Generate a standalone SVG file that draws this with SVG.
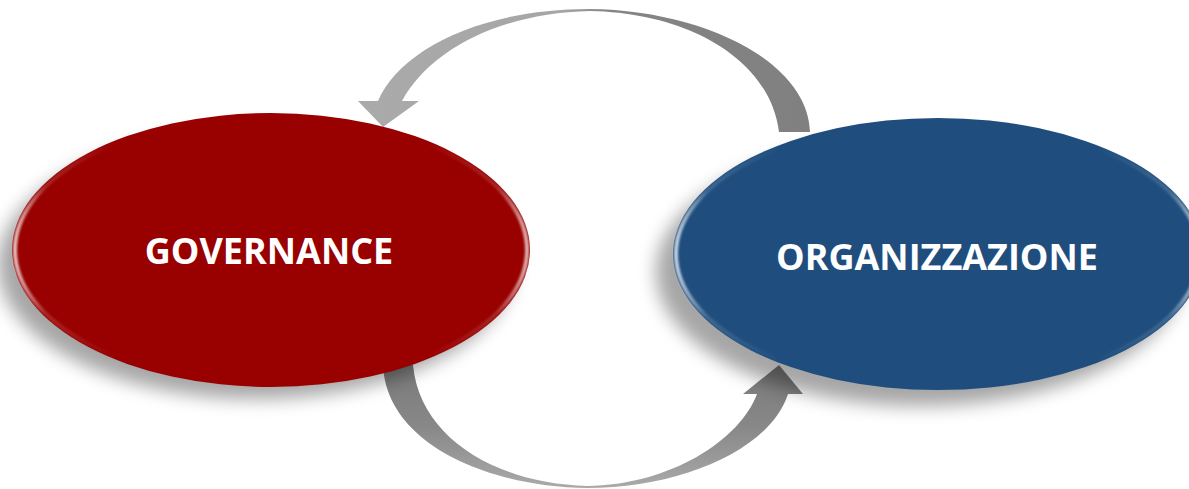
<svg xmlns="http://www.w3.org/2000/svg" width="1189" height="489" viewBox="0 0 1189 489">
<defs>
<style>
.lbl{font-family:"Open Sans","Liberation Sans",sans-serif;font-weight:bold;fill:#ffffff;text-anchor:middle}
.rim{fill:none;stroke:url(#rim);stroke-width:4;filter:url(#soft)}
</style>
<filter id="shadow" x="-20%" y="-30%" width="140%" height="160%"><feGaussianBlur stdDeviation="9"/></filter>
<filter id="soft" x="-5%" y="-5%" width="110%" height="110%"><feGaussianBlur stdDeviation="1"/></filter>
<linearGradient id="rim" x1="0" y1="0" x2="1" y2="0">
<stop offset="0" stop-color="#ffffff" stop-opacity="0.75"/>
<stop offset="0.06" stop-color="#ffffff" stop-opacity="0.15"/>
<stop offset="0.2" stop-color="#ffffff" stop-opacity="0"/>
<stop offset="0.8" stop-color="#ffffff" stop-opacity="0"/>
<stop offset="0.94" stop-color="#ffffff" stop-opacity="0.15"/>
<stop offset="1" stop-color="#ffffff" stop-opacity="0.7"/>
</linearGradient>
<linearGradient id="topArrow" x1="360" y1="0" x2="810" y2="0" gradientUnits="userSpaceOnUse">
<stop offset="0" stop-color="#aaaaaa"/>
<stop offset="0.45" stop-color="#a6a6a6"/>
<stop offset="0.55" stop-color="#858585"/>
<stop offset="1" stop-color="#808080"/>
</linearGradient>
<linearGradient id="botArrow" x1="0" y1="365" x2="0" y2="489" gradientUnits="userSpaceOnUse">
<stop offset="0" stop-color="#7a7a7a"/>
<stop offset="0.5" stop-color="#888888"/>
<stop offset="1" stop-color="#aaaaaa"/>
</linearGradient>
</defs>
<rect width="1189" height="489" fill="#ffffff"/>
<g id="connectors">
<path id="arrow-top" fill="url(#topArrow)" d="M 810 132 C 808 60, 700 10, 590 9 C 480 9, 400 50, 378 101 L 358 101 L 383 127 L 419 101 L 402 101 C 430 50, 500 13, 590 11 C 690 13, 770 60, 779 132 Z"/>
<path id="arrow-bottom" fill="url(#botArrow)" d="M 383 365 C 386 440, 480 486, 587 488 C 680 488, 770 450, 788 394 L 803 394 L 779 365 L 743 394 L 757 394 C 740 440, 670 485, 587 486 C 500 484, 420 440, 413 365 Z"/>
</g>
<g id="node-governance">
<ellipse cx="256" cy="265" rx="258" ry="134" fill="#000000" opacity="0.35" filter="url(#shadow)"/>
<ellipse cx="271" cy="250" rx="259" ry="137" fill="#990000"/>
<ellipse class="rim" cx="271" cy="250" rx="256" ry="134"/>
<text class="lbl" x="269" y="264" font-size="36">GOVERNANCE</text>
</g>
<g id="node-organizzazione">
<ellipse cx="920" cy="272" rx="264" ry="134" fill="#000000" opacity="0.35" filter="url(#shadow)"/>
<ellipse cx="938" cy="254" rx="265" ry="136" fill="#1f4e7e"/>
<ellipse class="rim" cx="938" cy="254" rx="262" ry="133"/>
<text class="lbl" x="937" y="270" font-size="36">ORGANIZZAZIONE</text>
</g>
</svg>
